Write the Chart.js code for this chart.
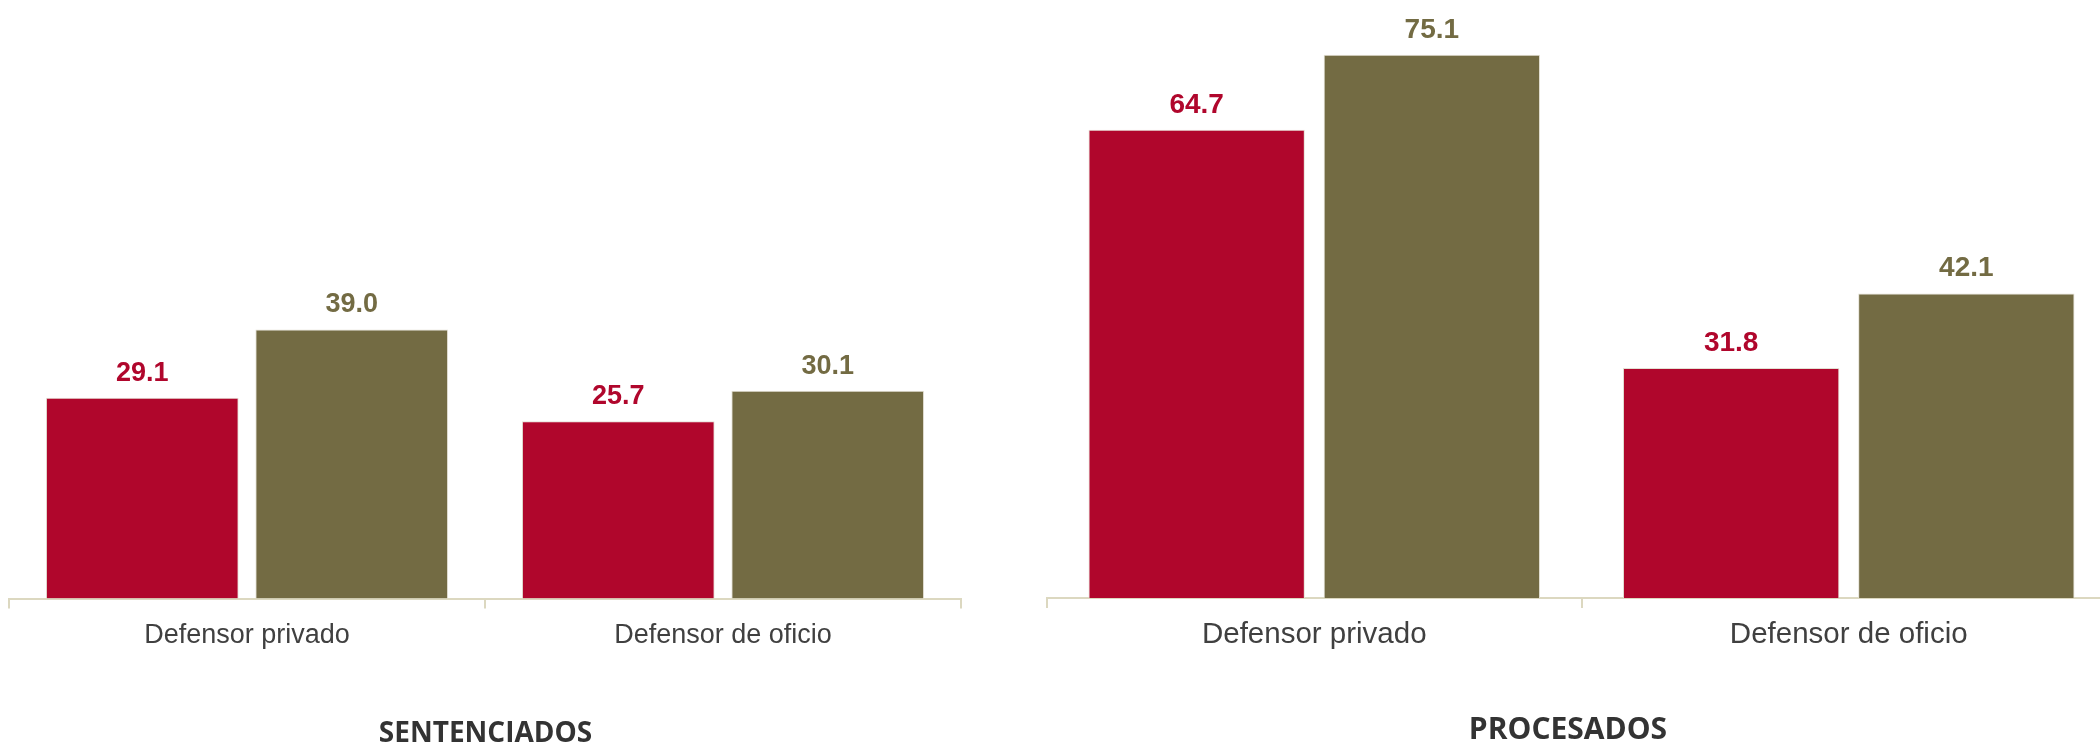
<!DOCTYPE html>
<html>
<head>
<meta charset="utf-8">
<script src="https://cdn.jsdelivr.net/npm/chart.js@4"></script>
<style>
  html, body { margin: 0; padding: 0; background: #fff; }
  body { width: 2100px; height: 744px; overflow: hidden; position: relative; }
  .panel { position: absolute; top: 0; height: 744px; }
  #left { left: 0; width: 980px; }
  #right { left: 1040px; width: 1090px; }
</style>
</head>
<body>
<div class="panel" id="left"><canvas id="chart-sentenciados"></canvas></div>
<div class="panel" id="right"><canvas id="chart-procesados"></canvas></div>
<script>
const categories = ['Defensor privado', 'Defensor de oficio'];
const sentenciadosRed = [29.1, 25.7];
const sentenciadosOlive = [39.0, 30.1];
const procesadosRed = [64.7, 31.8];
const procesadosOlive = [75.1, 42.1];

const RED = '#b0062c';
const OLIVE = '#736b43';
const AXIS = '#dcd8c0';

// value labels above each bar
const barValueLabels = {
  id: 'barValueLabels',
  afterDatasetsDraw(chart, args, opts) {
    const ctx = chart.ctx;
    ctx.save();
    ctx.font = 'bold ' + opts.size + 'px "Liberation Sans", Arial, sans-serif';
    ctx.textAlign = 'center';
    ctx.textBaseline = 'alphabetic';
    chart.data.datasets.forEach((ds, i) => {
      ctx.fillStyle = ds.backgroundColor;
      chart.getDatasetMeta(i).data.forEach((bar, j) => {
        ctx.fillText(ds.data[j].toFixed(1), bar.x, bar.y - opts.gap);
      });
    });
    ctx.restore();
  }
};

// panel caption under the axis
const panelTitle = {
  id: 'panelTitle',
  afterDraw(chart, args, opts) {
    const ctx = chart.ctx;
    ctx.save();
    ctx.font = 'bold ' + opts.size + 'px "Open Sans", "Liberation Sans", sans-serif';
    ctx.fillStyle = '#333333';
    ctx.textAlign = 'center';
    ctx.textBaseline = 'middle';
    ctx.fillText(opts.text, opts.x, opts.y);
    ctx.restore();
  }
};

function makeChart(id, red, olive, o) {
  const ctx = document.getElementById(id).getContext('2d');
  return new Chart(ctx, {
    type: 'bar',
    data: {
      labels: categories,
      datasets: [
        { label: 'Serie 1', data: red, backgroundColor: RED, borderColor: '#e3e0d4', borderWidth: 1 },
        { label: 'Serie 2', data: olive, backgroundColor: OLIVE, borderColor: '#e3e0d4', borderWidth: 1 }
      ]
    },
    options: {
      responsive: true,
      maintainAspectRatio: false,
      animation: false,
      categoryPercentage: 0.88,
      barPercentage: 0.92,
      layout: { padding: { left: o.padLeft, right: o.padRight, top: 0, bottom: o.padBottom } },
      scales: {
        x: {
          afterFit(scale) { scale.height = 100; },
          grid: { drawOnChartArea: false, drawTicks: true, tickLength: 10, color: AXIS, lineWidth: 2 },
          border: { display: true, color: AXIS, width: 2 },
          ticks: {
            color: '#404040',
            padding: o.tickPad,
            font: { family: '"Liberation Sans", Arial, sans-serif', size: o.tickSize }
          }
        },
        y: { display: false, min: 0, max: o.yMax }
      },
      plugins: {
        legend: { display: false },
        tooltip: { enabled: false },
        barValueLabels: { size: o.labelSize, gap: 17 },
        panelTitle: { text: o.title, x: o.titleX, y: o.titleY, size: o.titleSize }
      }
    },
    plugins: [barValueLabels, panelTitle]
  });
}

makeChart('chart-sentenciados', sentenciadosRed, sentenciadosOlive, {
  padLeft: 9, padRight: 19, padBottom: 45.5, yMax: 86.74,
  tickSize: 27, tickPad: 11, labelSize: 27,
  title: 'SENTENCIADOS', titleX: 485.5, titleY: 734, titleSize: 28
});

makeChart('chart-procesados', procesadosRed, procesadosOlive, {
  padLeft: 7, padRight: 14, padBottom: 46, yMax: 82.65,
  tickSize: 29.5, tickPad: 9, labelSize: 28,
  title: 'PROCESADOS', titleX: 528, titleY: 730, titleSize: 30
});
</script>
</body>
</html>
